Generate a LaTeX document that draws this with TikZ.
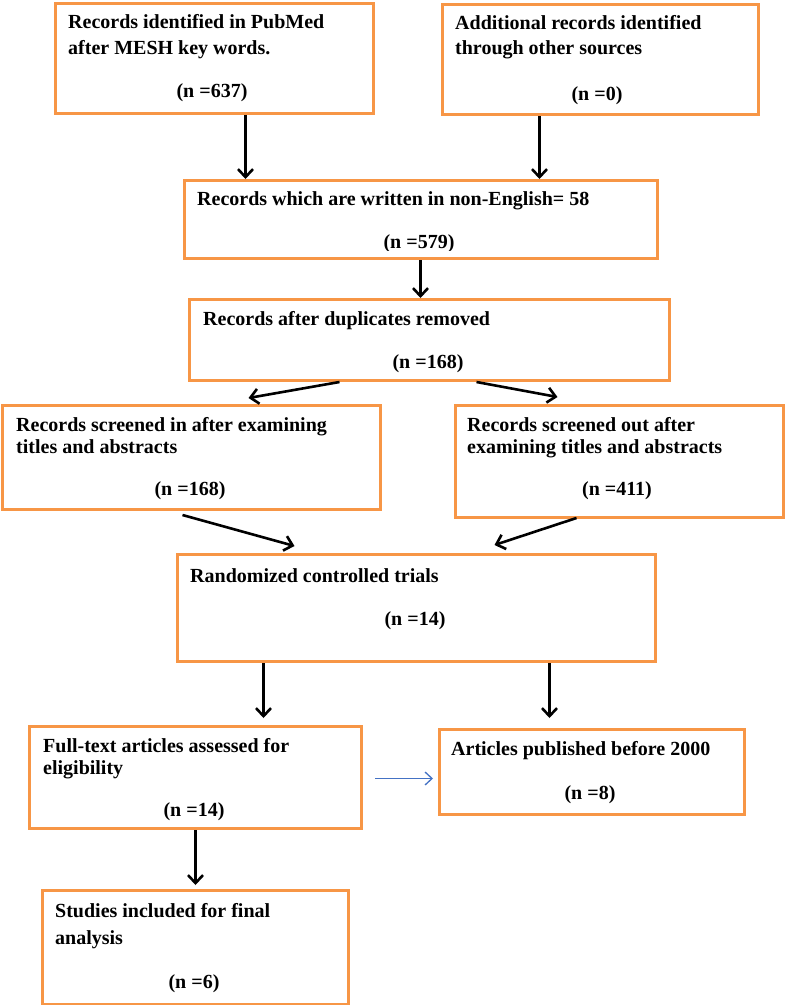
\documentclass[tikz,border=0pt]{standalone}
\usepackage{fontspec}
\setmainfont{Liberation Serif}
\usetikzlibrary{arrows.meta}
\definecolor{boxorange}{RGB}{247,150,70}
\definecolor{arrowblue}{RGB}{68,114,196}
\begin{document}
\begin{tikzpicture}[x=1pt,y=-1pt,
  box/.style={draw=boxorange, line width=3pt, inner sep=0pt, anchor=north west},
  txt/.style={anchor=base west, inner sep=0pt, font=\fontsize{20}{24}\selectfont\bfseries},
  num/.style={anchor=base, inner sep=0pt, font=\fontsize{20}{24}\selectfont\bfseries},
  arr/.style={draw=black, line width=2.6pt, -{Straight Barb[length=8pt,width=15pt]}},
  thinarr/.style={draw=arrowblue, line width=1.3pt, -{Straight Barb[length=7pt,width=13pt]}}]
\useasboundingbox (0,0) rectangle (786,1005);
\fill[white] (0,0) rectangle (786,1005);

% boxes
\node[box, minimum width=318pt, minimum height=110pt] (b1) at (54,2) {};
\node[box, minimum width=316pt, minimum height=110pt] (b2) at (441,3) {};
\node[box, minimum width=473pt, minimum height=78pt] (b3) at (183,179) {};
\node[box, minimum width=480pt, minimum height=81pt] (b4) at (188,298) {};
\node[box, minimum width=378pt, minimum height=104pt] (b5) at (1,404) {};
\node[box, minimum width=328pt, minimum height=112pt] (b6) at (454,404) {};
\node[box, minimum width=478pt, minimum height=107pt] (b7) at (176,553) {};
\node[box, minimum width=332pt, minimum height=102pt] (b8) at (28,725) {};
\node[box, minimum width=305pt, minimum height=85pt] (b9) at (438,728) {};
\node[box, minimum width=306pt, minimum height=114pt] (b10) at (41,889) {};

% texts
\node[txt] (t1a) at (68,28) {Records identified in PubMed};
\node[txt] (t1b) at (68,54) {after MESH key words.};
\node[num] (t1c) at (212,97) {(n =637)};
\node[txt] (t2a) at (455,29) {Additional records identified};
\node[txt] (t2b) at (455,54) {through other sources};
\node[num] (t2c) at (597,100) {(n =0)};
\node[txt] (t3a) at (197,205) {Records which are written in non-English= 58};
\begin{scope}
\clip (0,0) rectangle (786,250.5);
\node[num] (t3c) at (419,248) {(n =579)};
\end{scope}
\node[txt] (t4a) at (203,325) {Records after duplicates removed};
\node[num] (t4c) at (428,368) {(n =168)};
\node[txt] (t5a) at (16,431) {Records screened in after examining};
\node[txt] (t5b) at (16,453) {titles and abstracts};
\node[num] (t5c) at (190,495) {(n =168)};
\node[txt] (t6a) at (467,431) {Records screened out after};
\node[txt] (t6b) at (467,453) {examining titles and abstracts};
\node[num] (t6c) at (617,495) {(n =411)};
\node[txt] (t7a) at (190,582) {Randomized controlled trials};
\node[num] (t7c) at (415,625) {(n =14)};
\node[txt] (t8a) at (43,752) {Full-text articles assessed for};
\node[txt] (t8b) at (43,774) {eligibility};
\node[num] (t8c) at (194,816) {(n =14)};
\node[txt] (t9a) at (451,755) {Articles published before 2000};
\node[num] (t9c) at (590,799) {(n =8)};
\node[txt] (t10a) at (55,917) {Studies included for final};
\node[txt] (t10b) at (55,944) {analysis};
\node[num] (t10c) at (194,988) {(n =6)};

% connectors
\draw[arr] ([xshift=31pt]b1.south) -- ([xshift=-175.5pt]b3.north);
\draw[arr] ([xshift=-61pt]b2.south) -- ([xshift=118.5pt]b3.north);
\draw[arr] ([xshift=-0.5pt]b3.south) -- ([xshift=-9pt]b4.north);
\draw[arr] ([xshift=-90pt]b4.south) -- ([xshift=57pt,yshift=6pt]b5.north);
\draw[arr] ([xshift=47pt]b4.south) -- ([xshift=-62pt,yshift=7pt]b6.north);
\draw[arr] ([xshift=-9pt,yshift=-4pt]b5.south) -- ([xshift=-122pt,yshift=7pt]b7.north);
\draw[arr] ([xshift=-43pt,yshift=1pt]b6.south) -- ([xshift=78pt,yshift=8pt]b7.north);
\draw[arr] ([xshift=-153pt]b7.south) -- ([xshift=68pt,yshift=7pt]b8.north);
\draw[arr] ([xshift=133pt]b7.south) -- ([xshift=-42.5pt,yshift=10pt]b9.north);
\draw[arr] (b8.south) -- ([yshift=4pt]b10.north);
\draw[thinarr] ([xshift=12pt,yshift=-1pt]b8.east) -- ([xshift=-5pt,yshift=-6.5pt]b9.west);
\end{tikzpicture}
\end{document}
